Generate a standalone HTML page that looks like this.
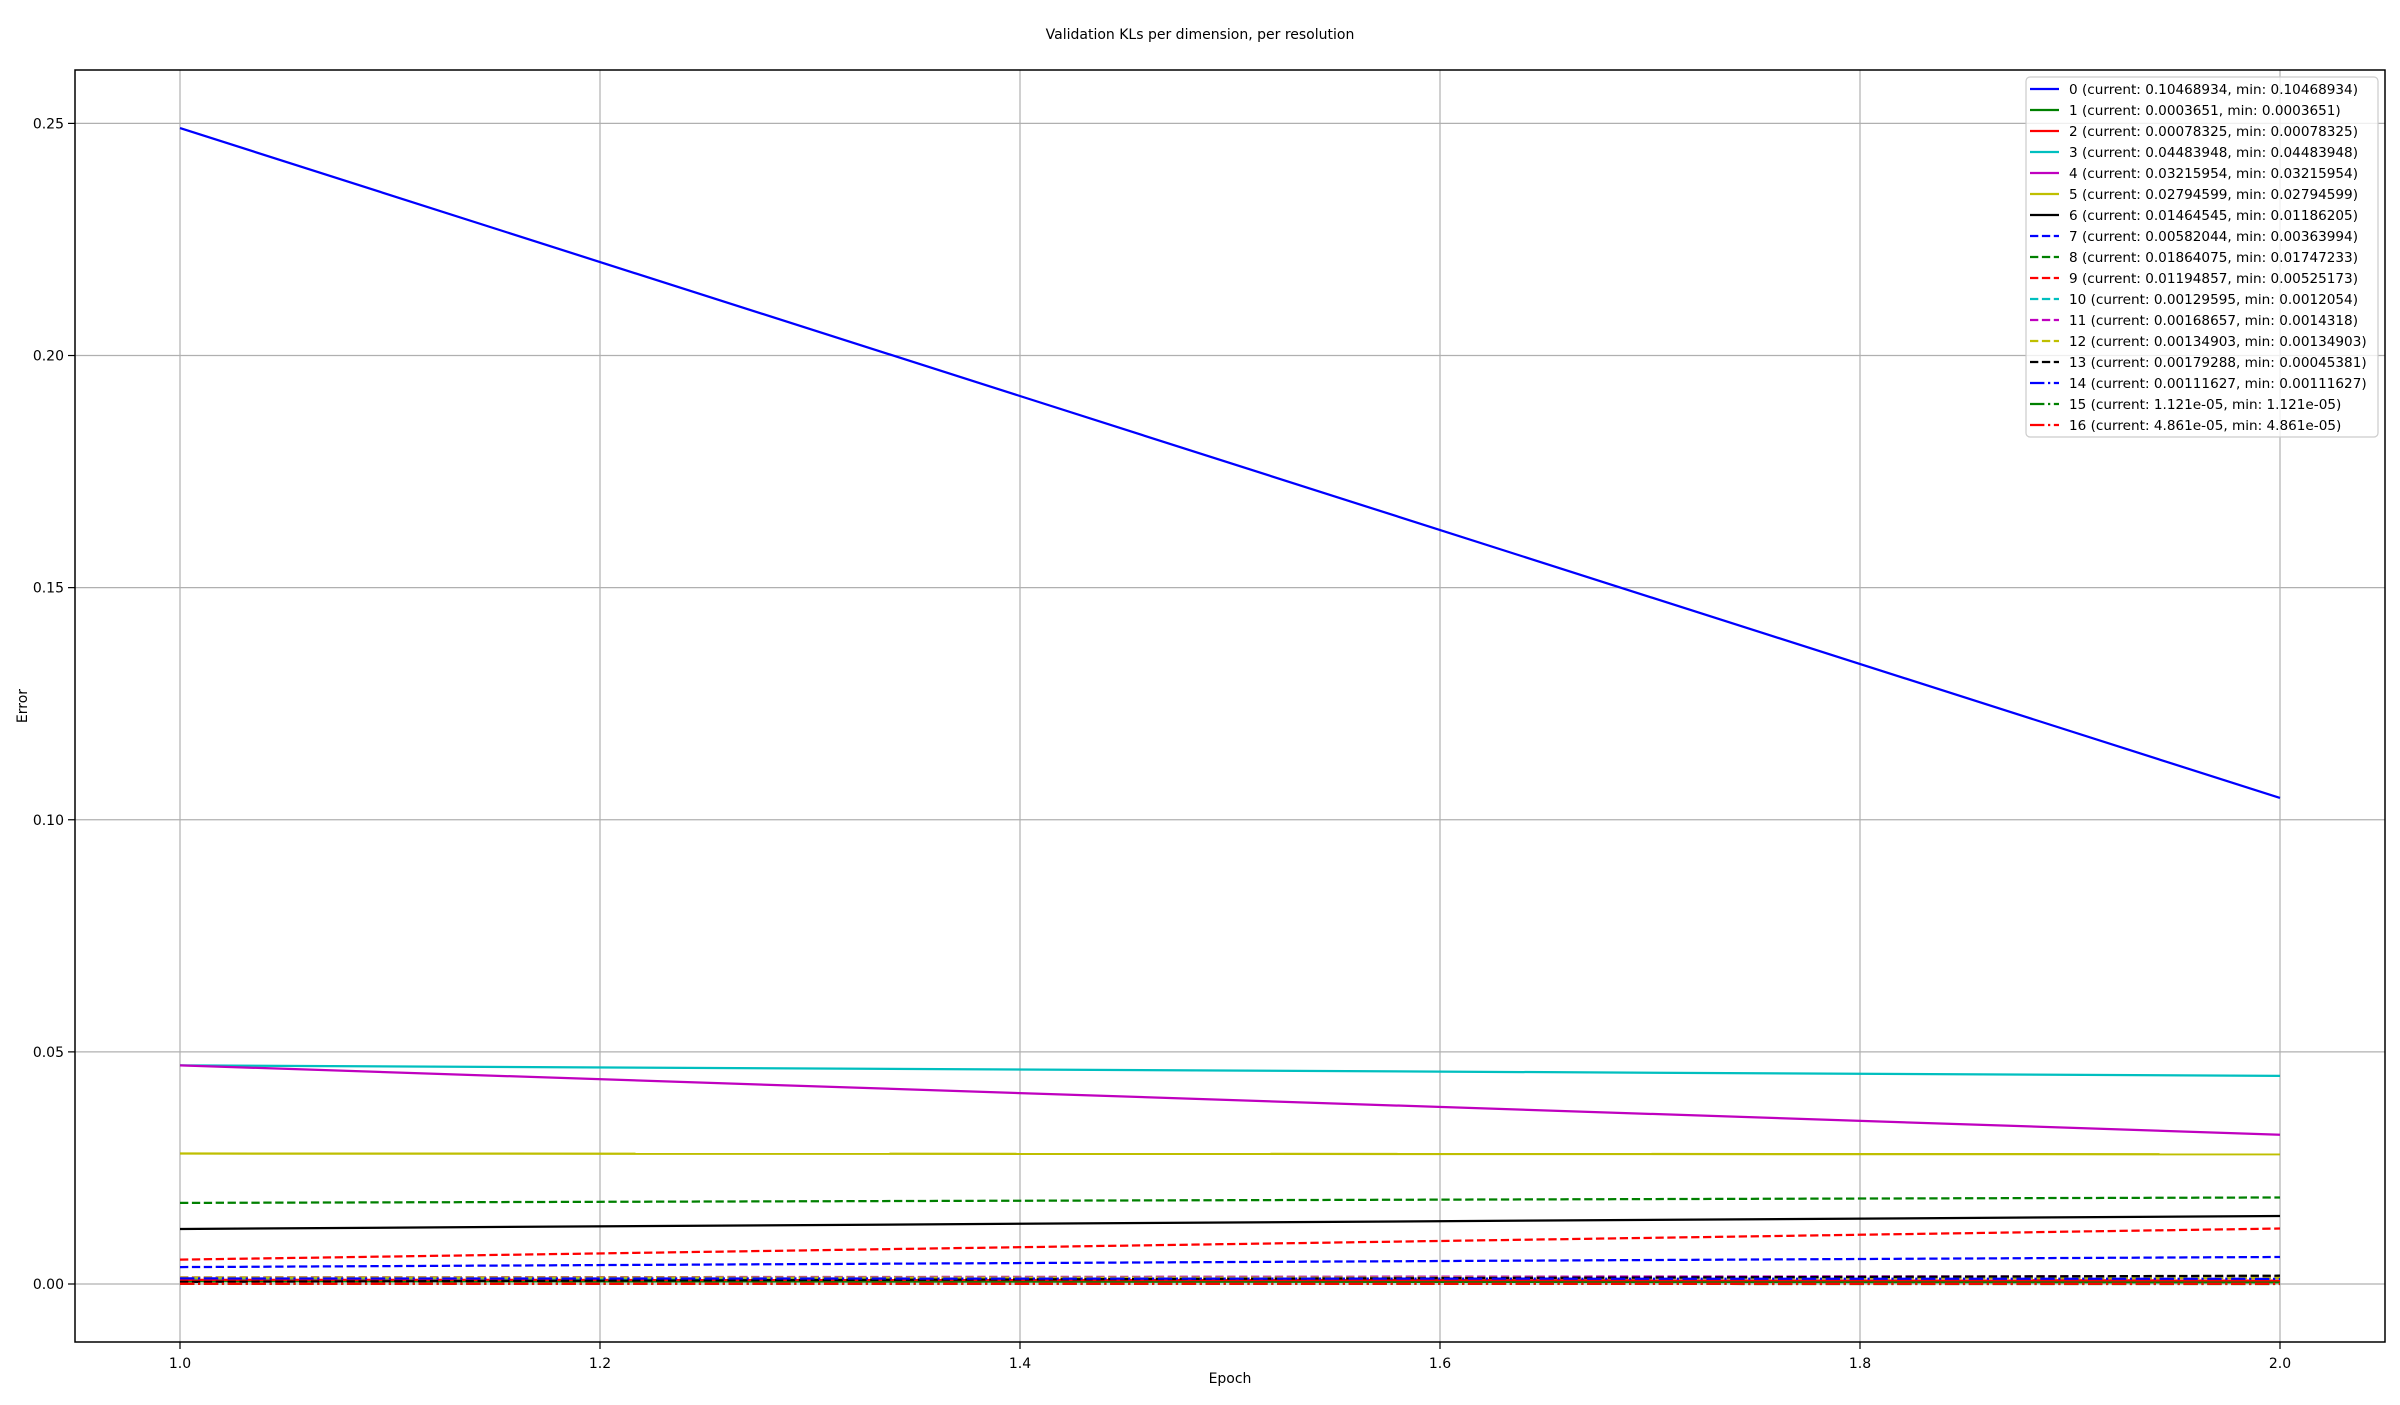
<!DOCTYPE html>
<html><head><meta charset="utf-8"><style>
html,body{margin:0;padding:0;background:#fff}
svg text{font-family:"DejaVu Sans","Liberation Sans",sans-serif;fill:#000}
</style></head><body>
<svg id="chart" width="2400" height="1400" viewBox="0 0 2400 1400" xmlns="http://www.w3.org/2000/svg">
<rect width="2400" height="1400" fill="#fff"/>
<text x="1200" y="39" font-size="14" text-anchor="middle">Validation KLs per dimension, per resolution</text>
<g id="grid"></g>
<g id="series"></g>
<rect x="75" y="70" width="2310" height="1272" fill="none" stroke="#000" stroke-width="1.5"/>
<g id="ticks"></g>
<text x="1230" y="1383" font-size="14" text-anchor="middle">Epoch</text>
<text x="27" y="706" font-size="14" text-anchor="middle" transform="rotate(-90 27 706)">Error</text>
<g id="legend"></g>
</svg>
<script>
const epochs = [1.0, 2.0];
const seriesNames = ["0","1","2","3","4","5","6","7","8","9","10","11","12","13","14","15","16"];
const startValues = [0.249, 0.0006, 0.0009, 0.0471, 0.0471, 0.0281, 0.01186, 0.00364, 0.01747, 0.00525, 0.0012, 0.00143, 0.0014, 0.00045, 0.0012, 0.00002, 0.00006];
const currentValues = [0.10468934, 0.0003651, 0.00078325, 0.04483948, 0.03215954, 0.02794599, 0.01464545, 0.00582044, 0.01864075, 0.01194857, 0.00129595, 0.00168657, 0.00134903, 0.00179288, 0.00111627, 0.00001121, 0.00004861];
const legendLabels = ["0 (current: 0.10468934, min: 0.10468934)","1 (current: 0.0003651, min: 0.0003651)","2 (current: 0.00078325, min: 0.00078325)","3 (current: 0.04483948, min: 0.04483948)","4 (current: 0.03215954, min: 0.03215954)","5 (current: 0.02794599, min: 0.02794599)","6 (current: 0.01464545, min: 0.01186205)","7 (current: 0.00582044, min: 0.00363994)","8 (current: 0.01864075, min: 0.01747233)","9 (current: 0.01194857, min: 0.00525173)","10 (current: 0.00129595, min: 0.0012054)","11 (current: 0.00168657, min: 0.0014318)","12 (current: 0.00134903, min: 0.00134903)","13 (current: 0.00179288, min: 0.00045381)","14 (current: 0.00111627, min: 0.00111627)","15 (current: 1.121e-05, min: 1.121e-05)","16 (current: 4.861e-05, min: 4.861e-05)"];
const xTicks = [1.0, 1.2, 1.4, 1.6, 1.8, 2.0];
const xTickLabels = ["1.0","1.2","1.4","1.6","1.8","2.0"];
const yTicks = [0, 0.05, 0.10, 0.15, 0.20, 0.25];
const yTickLabels = ["0.00","0.05","0.10","0.15","0.20","0.25"];

const colors = ["#0000ff","#008000","#ff0000","#00bfbf","#bf00bf","#bfbf00","#000000"];
const dashes = ["", "8.3 3.6", "14.4 3.6 2.25 3.6"];
const NS = "http://www.w3.org/2000/svg";
const X = v => 180 + (v - 1.0) * 2100;
const Y = v => 1284 - v * 4642.4;
function mk(tag, attrs, parent){const e=document.createElementNS(NS,tag);for(const k in attrs)e.setAttribute(k,attrs[k]);parent.appendChild(e);return e;}
const grid=document.getElementById('grid'), ticks=document.getElementById('ticks'), ser=document.getElementById('series'), leg=document.getElementById('legend');
xTicks.forEach((t,i)=>{
  const g=mk('line',{x1:X(t),x2:X(t),y1:70,y2:1342,stroke:'#b0b0b0','stroke-width':1.2},grid);
  
  
  const tk=mk('line',{x1:X(t),x2:X(t),y1:1342,y2:1349,stroke:'#000','stroke-width':1.2},ticks);
  
  
  const tx=mk('text',{x:X(t),y:1368,'font-size':14,'text-anchor':'middle'},ticks);
  tx.textContent=xTickLabels[i];
  
  
});
yTicks.forEach((t,i)=>{
  const g=mk('line',{x1:75,x2:2385,y1:Y(t),y2:Y(t),stroke:'#b0b0b0','stroke-width':1.2},grid);
  
  
  const tk=mk('line',{x1:68,x2:75,y1:Y(t),y2:Y(t),stroke:'#000','stroke-width':1.2},ticks);
  
  
  const tx=mk('text',{x:64,y:Y(t)+5,'font-size':14,'text-anchor':'end'},ticks);
  tx.textContent=yTickLabels[i];
  
  
});
seriesNames.forEach((n,i)=>{
  const c=colors[i%7], d=dashes[Math.floor(i/7)];
  const a={x1:X(epochs[0]),y1:Y(startValues[i]),x2:X(epochs[1]),y2:Y(currentValues[i]),stroke:c,'stroke-width':2.25,fill:'none'};
  if(d)a['stroke-dasharray']=d;
  const l=mk('line',a,ser);
  
  
});
const lb=mk('rect',{x:2026,y:77,width:352,height:360,rx:4,fill:'#fff','fill-opacity':0.8,stroke:'#cccccc','stroke-width':1.2},leg);


legendLabels.forEach((s,i)=>{
  const y=89+i*21;
  const c=colors[i%7], d=dashes[Math.floor(i/7)];
  const a={x1:2030,x2:2059,y1:y,y2:y,stroke:c,'stroke-width':2.25};
  if(d)a['stroke-dasharray']=d;
  const h=mk('line',a,leg);
  
  
  const t=mk('text',{x:2069,y:y+5,'font-size':13.6},leg);
  t.textContent=s;
  
  
});
</script>
</body></html>
